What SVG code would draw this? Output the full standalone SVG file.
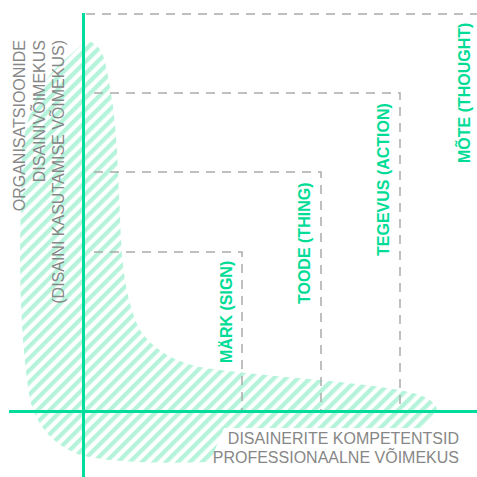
<svg xmlns="http://www.w3.org/2000/svg" width="477" height="477" viewBox="0 0 477 477">
  <defs>
    <pattern id="hatch" patternUnits="userSpaceOnUse" width="8.5" height="8.5" patternTransform="rotate(45)">
      <rect x="0" y="0" width="4.3" height="8.5" fill="#b5f4db"/>
    </pattern>
    <style>
      .dash { fill: none; stroke: #aaaaaa; stroke-width: 1.5; stroke-dasharray: 9 7; }
      .axis { fill: none; stroke: #00dc9b; stroke-width: 3; }
      .grey { font-family: "Liberation Sans", Arial, sans-serif; font-size: 16px; fill: #878787; }
      .green { font-family: "Liberation Sans", Arial, sans-serif; font-size: 16px; font-weight: bold; fill: #00dc96; }
    </style>
  </defs>
  <rect width="477" height="477" fill="#ffffff"/>

  <g id="capability-area">
    <path fill="url(#hatch)" d="M 62,62 L 86,41 Q 100,42 105,62 Q 114,100 117,150 L 121,240 Q 124,300 140,330 Q 160,360 205,368 Q 240,373 320,380 Q 400,388 420,395 Q 438,402 437,412 Q 435,424 420,428 L 224,428 L 210,462 Q 120,465 80,455 Q 40,440 30,400 Q 20,340 20,250 L 22,150 Q 30,90 62,62 Z"/>
  </g>

  <g id="connectors">
    <path class="dash" d="M 86,14 H 477"/>
    <path class="dash" d="M 94,93 H 400 V 411"/>
    <path class="dash" d="M 94,172 H 321 V 411"/>
    <path class="dash" d="M 94,252 H 242 V 411"/>
    <path class="axis" d="M 83.5,13 V 477"/>
    <path class="axis" d="M 9,411.5 H 477"/>
  </g>

  <g id="y-axis-label">
    <text class="grey" text-anchor="end" transform="translate(25,40) rotate(-90)">ORGANISATSIOONIDE</text>
    <text class="grey" text-anchor="end" transform="translate(44.5,40) rotate(-90)">DISAINIVÕIMEKUS</text>
    <text class="grey" text-anchor="end" transform="translate(63.5,40) rotate(-90)">(DISAINI KASUTAMISE VÕIMEKUS)</text>
  </g>

  <g id="x-axis-label">
    <text class="grey" text-anchor="end" x="459" y="443.5">DISAINERITE KOMPETENTSID</text>
    <text class="grey" text-anchor="end" x="459" y="463">PROFESSIONAALNE VÕIMEKUS</text>
  </g>

  <g id="node-mark">
    <text class="green" transform="translate(232,363) rotate(-90)">MÄRK (SIGN)</text>
  </g>
  <g id="node-toode">
    <text class="green" transform="translate(310,304) rotate(-90)">TOODE (THING)</text>
  </g>
  <g id="node-tegevus">
    <text class="green" transform="translate(389,256) rotate(-90)">TEGEVUS (ACTION)</text>
  </g>
  <g id="node-mote">
    <text class="green" transform="translate(470,163) rotate(-90)">MÕTE (THOUGHT)</text>
  </g>
</svg>
